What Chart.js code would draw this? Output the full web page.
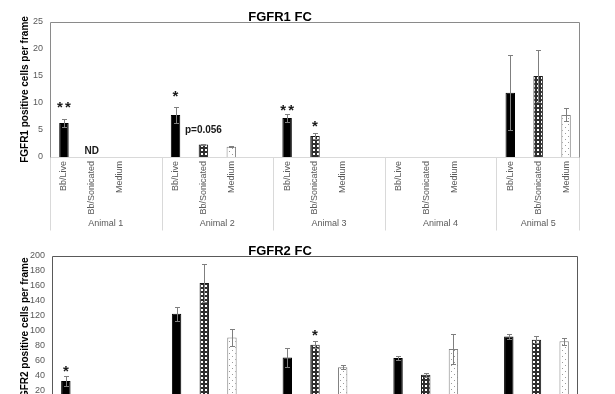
<!DOCTYPE html>
<html><head><meta charset="utf-8">
<script src="https://cdn.jsdelivr.net/npm/chart.js@4"></script>
<style>
html,body{margin:0;padding:0;background:#fff;overflow:hidden;width:615px;height:394px;}
canvas{position:absolute;left:0;}
#c1{top:0}
#c2{top:232px}
</style></head><body>
<canvas id="c1" width="615" height="232"></canvas>
<canvas id="c2" width="615" height="262"></canvas>
<script>
// ---------- data ----------
const animals = ['Animal 1','Animal 2','Animal 3','Animal 4','Animal 5'];
const treatments = ['Bb/Live','Bb/Sonicated','Medium'];

const fgfr1Live    = [6.3, 7.8, 7.2, null, 11.9];
const fgfr1LiveErr = [0.7, 1.5, 0.7, null, 6.9];
const fgfr1Son     = [null, 2.3, 3.9, null, 15.0];
const fgfr1SonErr  = [null, 0.1, 0.6, null, 4.9];
const fgfr1Med     = [null, 1.9, null, null, 7.8];
const fgfr1MedErr  = [null, 0.1, null, null, 1.2];

const fgfr2Live    = [33, 123, 64.5, 63.6, 92.6];
const fgfr2LiveErr = [7, 9.5, 12.5, 2.2, 3.2];
const fgfr2Son     = [null, 164, 81.5, 41.2, 88.2];
const fgfr2SonErr  = [null, 25, 4.5, 2.3, 4.4];
const fgfr2Med     = [null, 91, 51.5, 75.7, 86];
const fgfr2MedErr  = [null, 11.5, 3, 20, 4.5];

const fgfr1Ticks = [0, 5, 10, 15, 20, 25];
const fgfr2Ticks = [0, 20, 40, 60, 80, 100, 120, 140, 160, 180, 200];

// marks: animal index, treatment index, y value (data units), text
const fgfr1Marks = [
  {a:0, t:0, y:9.9, text:'**'},
  {a:0, t:1, y:1.0, text:'ND', small:true},
  {a:1, t:0, y:11.9, text:'*'},
  {a:1, t:1, y:5.0, text:'p=0.056', small:true},
  {a:2, t:0, y:9.3, text:'**'},
  {a:2, t:1, y:6.3, text:'*'}
];
const fgfr2Marks = [
  {a:0, t:0, y:51, text:'*'},
  {a:2, t:1, y:98, text:'*'}
];

// ---------- helpers ----------
const FONT = '"Liberation Sans", Arial, sans-serif';
function buildLabels(){
  const out = [];
  animals.forEach((a,i)=>{ treatments.forEach(t=>out.push(t)); if(i<animals.length-1) out.push(''); });
  return out;
}
function buildSeries(series){ // series: [live, son, med]
  const out = [];
  animals.forEach((a,i)=>{ series.forEach(s=>out.push(s[i])); if(i<animals.length-1) out.push(null); });
  return out;
}
function makePattern(kind){
  const c = document.createElement('canvas');
  const g = c.getContext('2d');
  if(kind==='son'){
    c.width=4; c.height=4;
    g.fillStyle='#2e2e2e'; g.fillRect(0,0,4,4);
    g.fillStyle='#ffffff'; g.fillRect(1,1,2,2);
  } else {
    c.width=6; c.height=6;
    g.fillStyle='#ffffff'; g.fillRect(0,0,6,6);
    g.fillStyle='#9a9a9a'; g.fillRect(1,1,1,1); g.fillRect(4,4,1,1);
  }
  return g.createPattern(c,'repeat');
}
const sonPat = makePattern('son');
const medPat = makePattern('med');
const labels = buildLabels();
const bg = labels.map((l,i)=>{ const k=i%4; return k===0?'#000000':k===1?sonPat:k===2?medPat:'rgba(0,0,0,0)'; });
const bc = labels.map((l,i)=>{ const k=i%4; return k===0?'#000000':k===1?'#1a1a1a':k===2?'#808080':'rgba(0,0,0,0)'; });

const figPlugin = {
  id: 'fig',
  afterDatasetsDraw(chart, args, o){
    const ctx = chart.ctx, x = chart.scales.x, y = chart.scales.y, ca = chart.chartArea;
    // error bars
    ctx.save();
    ctx.strokeStyle = '#7f7f7f'; ctx.lineWidth = 1;
    o.values.forEach((v,i)=>{
      const e = o.errors[i];
      if(v==null || !e) return;
      const px = Math.round(x.getPixelForValue(i))+0.5;
      const t = Math.round(y.getPixelForValue(v+e))+0.5;
      const b = Math.round(y.getPixelForValue(Math.max(0,v-e)))+0.5;
      ctx.beginPath();
      ctx.moveTo(px,t); ctx.lineTo(px,b);
      ctx.moveTo(px-2.5,t); ctx.lineTo(px+2.5,t);
      ctx.moveTo(px-2.5,b); ctx.lineTo(px+2.5,b);
      ctx.stroke();
    });
    ctx.restore();
  },
  afterDraw(chart, args, o){
    const ctx = chart.ctx, x = chart.scales.x, y = chart.scales.y, ca = chart.chartArea;
    ctx.save();
    const L = Math.round(ca.left)+0.5, R = Math.round(ca.right)-0.5, T = Math.round(ca.top)+0.5, B = Math.round(ca.bottom)+0.5;
    // baseline & separators
    ctx.strokeStyle = '#d9d9d9'; ctx.lineWidth = 1;
    ctx.beginPath(); ctx.moveTo(L,B); ctx.lineTo(R,B); ctx.stroke();
    const n = labels.length;
    const edges = [];
    for(let i=0;i<=n;i++){ if(i===n || i%4===0) edges.push(i); }
    edges.forEach(i=>{
      const px = Math.round(x.getPixelForValue(i-0.5))+ (i===n?-0.5:0.5);
      ctx.beginPath(); ctx.moveTo(px,B); ctx.lineTo(px,B+o.sepLen); ctx.stroke();
    });
    // group labels
    ctx.fillStyle = '#595959';
    ctx.font = '9px ' + FONT;
    ctx.textAlign = 'center'; ctx.textBaseline = 'middle';
    animals.forEach((a,g)=>{
      const s = g*4, e = Math.min(s+4, n);
      const cx = (x.getPixelForValue(s-0.5)+x.getPixelForValue(e-0.5))/2;
      ctx.fillText(a, cx, B+o.groupY);
    });
    // frame
    ctx.strokeStyle = o.frameColor;
    ctx.beginPath(); ctx.moveTo(L,B); ctx.lineTo(L,T); ctx.lineTo(R,T); ctx.lineTo(R,B); ctx.stroke();
    // title
    ctx.fillStyle = '#000';
    ctx.font = 'bold 13px ' + FONT;
    ctx.textAlign = 'center'; ctx.textBaseline = 'alphabetic';
    ctx.fillText(o.title, o.titleX, ca.top - 1);
    // marks
    o.marks.forEach(m=>{
      const idx = m.a*4 + m.t;
      const px = x.getPixelForValue(idx);
      const py = y.getPixelForValue(m.y);
      ctx.fillStyle = '#1a1a1a';
      if(m.small){
        ctx.font = 'bold 10px ' + FONT;
        ctx.textBaseline = 'middle';
        ctx.fillText(m.text, px, py);
      } else {
        ctx.font = 'bold 15px ' + FONT;
        ctx.textBaseline = 'alphabetic';
        const k = m.text.length;
        for(let j=0;j<k;j++){
          const sx = px + (j-(k-1)/2)*8;
          ctx.fillText('*', sx, py + 8);
        }
      }
    });
    ctx.restore();
  }
};

function makeChart(id, cfg){
  const values = buildSeries(cfg.series);
  const errors = buildSeries(cfg.errs);
  return new Chart(document.getElementById(id), {
    type: 'bar',
    data: { labels: labels, datasets: [{ data: values, backgroundColor: bg, borderColor: bc, borderWidth: 1, categoryPercentage: 1, barPercentage: 0.34 }] },
    options: {
      responsive: false, animation: false, devicePixelRatio: 1,
      layout: { padding: { top: cfg.padTop, right: cfg.padRight, left: 0, bottom: 0 } },
      plugins: {
        legend: { display: false }, tooltip: { enabled: false }, title: { display: false },
        fig: { values, errors, marks: cfg.marks, title: cfg.title, titleX: 280, frameColor: cfg.frameColor, sepLen: 73, groupY: 66 }
      },
      scales: {
        x: {
          grid: { display: false, drawTicks: false }, border: { display: false },
          ticks: { autoSkip: false, minRotation: 90, maxRotation: 90, padding: 4, color: '#595959', font: { family: FONT, size: 9 } },
          afterFit(s){ s.height = cfg.xHeight; }
        },
        y: {
          min: 0, max: cfg.yMax,
          grid: { display: false, drawTicks: false }, border: { display: false },
          afterBuildTicks(s){ s.ticks = cfg.ticks.map(v=>({value:v})); },
          ticks: { padding: 7, color: '#595959', font: { family: FONT, size: 9 } },
          title: { display: true, text: cfg.yTitle, color: '#000', font: { family: FONT, size: 10, weight: 'bold' }, padding: { top: 19, bottom: 0 } },
          afterFit(s){ s.width = cfg.yWidth; }
        }
      }
    },
    plugins: [figPlugin]
  });
}

makeChart('c1', {
  series: [fgfr1Live, fgfr1Son, fgfr1Med], errs: [fgfr1LiveErr, fgfr1SonErr, fgfr1MedErr],
  marks: fgfr1Marks, title: 'FGFR1 FC', yTitle: 'FGFR1 positive cells per frame',
  yMax: 25, ticks: fgfr1Ticks, padTop: 22, padRight: 35, xHeight: 75, yWidth: 50, frameColor: '#8a8a8a'
});
makeChart('c2', {
  series: [fgfr2Live, fgfr2Son, fgfr2Med], errs: [fgfr2LiveErr, fgfr2SonErr, fgfr2MedErr],
  marks: fgfr2Marks, title: 'FGFR2 FC', yTitle: 'FGFR2 positive cells per frame',
  yMax: 200, ticks: fgfr2Ticks, padTop: 24, padRight: 37, xHeight: 88.3, yWidth: 52, frameColor: '#595959'
});
</script>
</body></html>
